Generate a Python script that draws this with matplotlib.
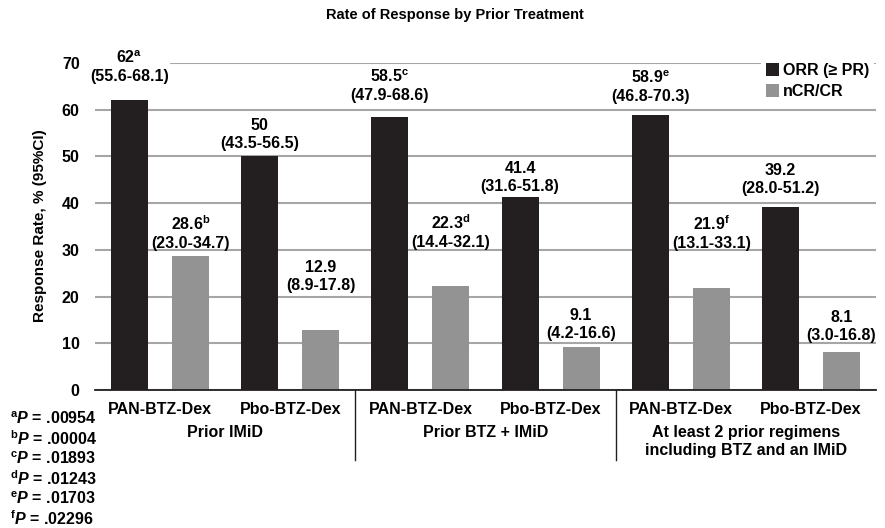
import matplotlib
matplotlib.use("Agg")
import matplotlib.pyplot as plt
from matplotlib.patches import Patch
import numpy as np

plt.rcParams['font.family'] = ['Liberation Sans', 'DejaVu Sans']
plt.rcParams['font.weight'] = 'bold'
plt.rcParams['mathtext.fontset'] = 'custom'
plt.rcParams['mathtext.rm'] = 'Liberation Sans:bold'
plt.rcParams['mathtext.bf'] = 'Liberation Sans:bold'
plt.rcParams['mathtext.it'] = 'Liberation Sans:bold:italic'

# dados
groups = ["Prior IMiD", "Prior BTZ + IMiD",
          "At least 2 prior regimens\nincluding BTZ and an IMiD"]
treatments = ["PAN-BTZ-Dex", "Pbo-BTZ-Dex"] * 3
orr = [62, 50, 58.5, 41.4, 58.9, 39.2]
orr_lo = [55.6, 43.5, 47.9, 31.6, 46.8, 28.0]
orr_hi = [68.1, 56.5, 68.6, 51.8, 70.3, 51.2]
orr_sup = ["a", "", "c", "", "e", ""]
cr = [28.6, 12.9, 22.3, 9.1, 21.9, 8.1]
cr_lo = [23.0, 8.9, 14.4, 4.2, 13.1, 3.0]
cr_hi = [34.7, 17.8, 32.1, 16.6, 33.1, 16.8]
cr_sup = ["b", "", "d", "", "f", ""]
p_letters = ["a", "b", "c", "d", "e", "f"]
p_values = [".00954", ".00004", ".01893", ".01243", ".01703", ".02296"]

# altura dos rótulos (centro do bloco de texto)
orr_label_y = [69.2, 54.6, 65.1, 45.4, 65.0, 45.1]
cr_label_y = [33.7, 24.2, 33.8, 14.1, 33.7, 13.6]

BLACK = '#231f20'
GRAY = '#939393'
FS = 11.5

fig = plt.figure(figsize=(8.85, 5.28), dpi=100)
ax = fig.add_axes([95/885, 1-390/528, 781/885, 327/528])

x = np.arange(len(treatments))
w = 0.284
off = 0.234
ax.bar(x - off, orr, w, color=BLACK, zorder=3)
ax.bar(x + off, cr, w, color=GRAY, zorder=3)


def label(v, sup, lo, hi):
    top = f"{v:g}"
    if sup:
        top += r"$^{\mathrm{" + sup + "}}$"
    return top + f"\n({lo:.1f}-{hi:.1f})"


for i in range(len(x)):
    # fundo branco só nos rótulos de cima (o de 62 corta a linha de 70)
    ax.text(x[i] - off, orr_label_y[i], label(orr[i], orr_sup[i], orr_lo[i], orr_hi[i]),
            ha='center', va='center', fontsize=FS, fontweight='bold', linespacing=1.25,
            zorder=5, clip_on=False,
            bbox=dict(facecolor='white', edgecolor='none', pad=0.5))
    ax.text(x[i] + off, cr_label_y[i], label(cr[i], cr_sup[i], cr_lo[i], cr_hi[i]),
            ha='center', va='center', fontsize=FS, fontweight='bold', linespacing=1.25,
            zorder=5, clip_on=False)

ax.set_xlim(-0.5, 5.5)
ax.set_ylim(0, 70)
ax.set_yticks(range(0, 80, 10))
ax.set_xticks(x)
ax.set_xticklabels(treatments, fontsize=FS, fontweight='bold')
ax.tick_params(axis='x', length=0, pad=9)
ax.tick_params(axis='y', length=0, pad=11, labelsize=FS)
for t in ax.get_yticklabels():
    t.set_fontweight('bold')
ax.yaxis.grid(True, color='#a6a6a6', linewidth=1.5)
ax.set_axisbelow(True)
for s in ['left', 'right', 'top']:
    ax.spines[s].set_visible(False)
ax.spines['bottom'].set_color(BLACK)
ax.spines['bottom'].set_linewidth(1.3)
ax.spines['bottom'].set_zorder(4)

# separadores e nomes dos grupos
tr = ax.get_xaxis_transform()
for sep in [1.5, 3.5]:
    ax.plot([sep, sep], [0, -0.214], color=BLACK, lw=1, transform=tr, clip_on=False)
for g, name in enumerate(groups):
    ax.text(2*g + 0.5, -0.108, name, transform=tr, ha='center', va='top',
            fontsize=FS, fontweight='bold', linespacing=1.25)

fig.text(455/885, 1-15/528, "Rate of Response by Prior Treatment",
         ha='center', va='center', fontsize=10.5, fontweight='bold')
fig.text(40/885, 1-226/528, "Response Rate, % (95%CI)", rotation=90,
         ha='center', va='center', fontsize=11, fontweight='bold')

for k, (let, pv) in enumerate(zip(p_letters, p_values)):
    fig.text(10/885, 1-(419 + 20*k)/528,
             r"$^{\mathrm{" + let + r"}}\mathit{P}$ = " + pv,
             ha='left', va='center', fontsize=FS, fontweight='bold')

handles = [Patch(facecolor=BLACK, label="ORR (≥ PR)"),
           Patch(facecolor=GRAY, label="nCR/CR")]
leg = ax.legend(handles=handles, loc='upper left',
                bbox_to_anchor=(753/885, 1-50/528), bbox_transform=fig.transFigure,
                handlelength=0.85, handleheight=0.85, handletextpad=0.25,
                labelspacing=0.4, borderpad=0.3, frameon=True, fancybox=False,
                prop=dict(size=FS, weight='bold'))
leg.get_frame().set_facecolor('white')
leg.get_frame().set_edgecolor('none')
leg.get_frame().set_alpha(1)
leg.set_zorder(6)

fig.savefig("out.png", dpi=100)
